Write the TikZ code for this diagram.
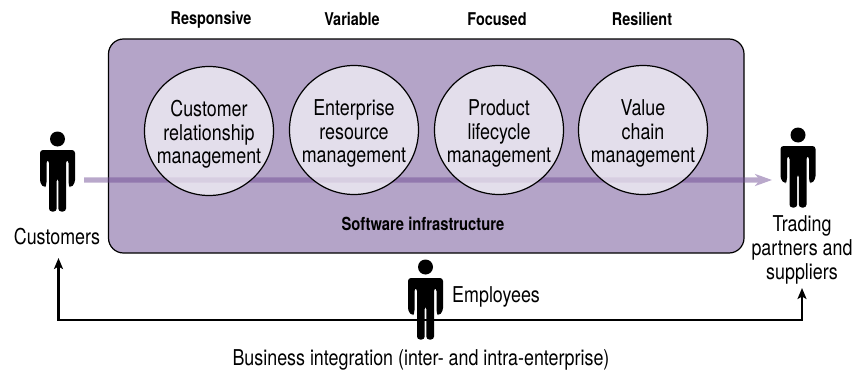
\documentclass[tikz,border=0pt]{standalone}
\usepackage{fontspec}
\setmainfont[FakeStretch=0.82]{TeX Gyre Heros}
\usetikzlibrary{arrows.meta}
\definecolor{boxfill}{HTML}{B4A4C8}
\definecolor{flowcol}{HTML}{6D4992}
\newcommand{\stagegap}{\rule{0pt}{23pt}}
\tikzset{
  x=1pt,y=-1pt,
  panel/.style={draw=black,line width=1.2pt,fill=boxfill,rounded corners=15pt},
  stage/.style={circle,draw=black,line width=1.2pt,fill=white,fill opacity=.64,text opacity=1,minimum size=129pt,inner sep=0pt,align=center,font=\fontsize{21.8}{23.5}\selectfont},
  quality/.style={font=\bfseries\fontsize{17.6}{20}\selectfont},
  party/.style={align=center,font=\fontsize{21.8}{24}\selectfont},
  flow/.style={draw=flowcol,fill=flowcol,line width=5.3pt,-{Stealth[length=17pt,width=12pt,inset=5pt]}},
  link/.style={draw=black,line width=2.4pt,{Stealth[length=11pt,width=9pt,inset=2.5pt]}-{Stealth[length=11pt,width=9pt,inset=2.5pt]}},
  person/.pic={
    \fill[black] (0,0) circle[radius=7.5];
    \fill[black,rounded corners=3pt] (-17.5,11) -- (17.5,11) -- (17.5,44) -- (13,49) -- (11,46) -- (11,21) -- (8.5,21)
      -- (8.5,72.5) -- (0.8,72.5) -- (0.8,39) -- (-0.8,39) -- (-0.8,72.5) -- (-8.5,72.5) -- (-8.5,21) -- (-11,21) -- (-11,46) -- (-13,49) -- (-17.5,44) -- cycle;
  }
}
\begin{document}
\begin{tikzpicture}
\useasboundingbox (0,0) rectangle (868,372);
\draw[panel] (108.5,39) rectangle (744,253);
\coordinate (flowstart) at (84,180);
\coordinate (flowend) at (772,180);
\begin{scope}[transparency group,opacity=.48]
\draw[flow] (flowstart) -- (flowend);
\end{scope}
\node[stage] (crm) at (209,131) {\stagegap Customer\\relationship\\management};
\node[stage] (erm) at (354,130) {\stagegap Enterprise\\resource\\management};
\node[stage] (plm) at (499,130) {\stagegap Product\\lifecycle\\management};
\node[stage] (vcm) at (643,130) {\stagegap Value\\chain\\management};
\node[quality] (q1) at (211,19.5) {Responsive};
\node[quality] (q2) at (352,19.5) {Variable};
\node[quality] (q3) at (497,19.5) {Focused};
\node[quality] (q4) at (642,19.5) {Resilient};
\node[quality,font=\bfseries\fontsize{18}{20}\selectfont] (infra) at (423,223.5) {Software infrastructure};
\coordinate (custin) at (58.5,258);
\coordinate (tradein) at (802,288);
\coordinate (busline) at (425,320);
\draw[link] (custin) |- (busline) -| (tradein);
\pic at (57.5,139) {person};
\pic at (798,135) {person};
\pic at (425.5,267) {person};
\node[party] (customers) at (57,237) {Customers};
\node[party] (trading) at (802,250) {Trading\\partners and\\suppliers};
\node[party,anchor=west,inner sep=0pt] (employees) at (452,297) {Employees};
\node[party] (business) at (421,360) {Business integration (inter- and intra-enterprise)};
\end{tikzpicture}
\end{document}
